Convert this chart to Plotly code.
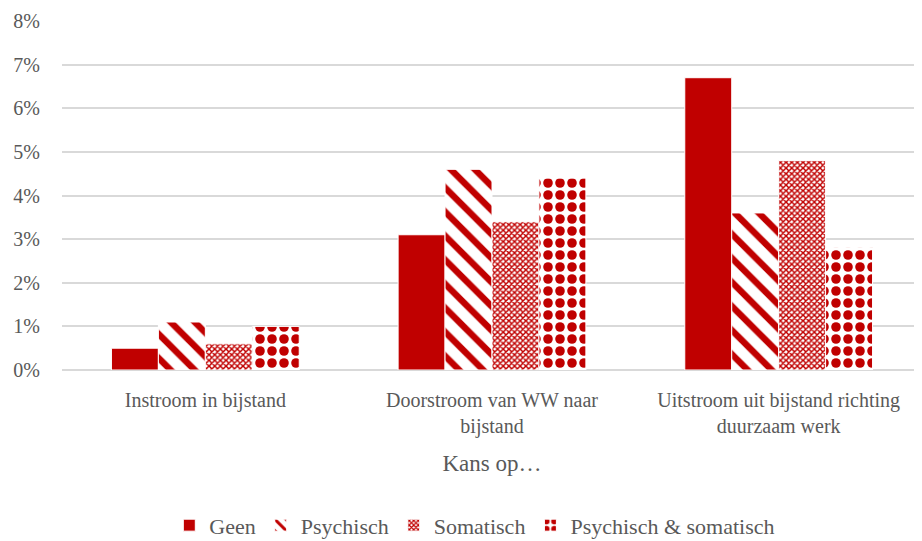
import plotly.graph_objects as go

categories = ["Instroom in bijstand", "Doorstroom van WW naar<br>bijstand",
              "Uitstroom uit bijstand richting<br>duurzaam werk"]
series_names = ["Geen", "Psychisch", "Somatisch", "Psychisch & somatisch"]
geen = [0.5, 3.1, 6.7]
psychisch = [1.1, 4.6, 3.6]
somatisch = [0.6, 3.4, 4.8]
psych_somat = [1.0, 4.4, 2.8]
y_ticks = [0, 1, 2, 3, 4, 5, 6, 7, 8]
y_tick_labels = ["0%", "1%", "2%", "3%", "4%", "5%", "6%", "7%", "8%"]

RED = "#C00000"
FONT = "Liberation Serif, Times New Roman, serif"
GREY = "#595959"

patterns = [
    dict(shape=""),
    dict(shape="\\", size=17, solidity=0.38, fgcolor=RED, bgcolor="white", fillmode="replace"),
    dict(shape="x", size=4, solidity=0.6, fgcolor=RED, bgcolor="white", fillmode="replace"),
    dict(shape=".", size=12, solidity=0.5, fgcolor=RED, bgcolor="white", fillmode="replace"),
]

fig = go.Figure()
for name, vals, pat in zip(series_names, [geen, psychisch, somatisch, psych_somat], patterns):
    fig.add_trace(go.Bar(
        name=name, x=categories, y=vals,
        marker=dict(color=RED if pat["shape"] == "" else "white",
                    pattern=pat, line=dict(color="white", width=1)),
    ))

fig.update_layout(
    width=914, height=533,
    margin=dict(l=54, r=0, t=13, b=171, autoexpand=False),
    paper_bgcolor="white", plot_bgcolor="white",
    barmode="group", bargap=0.345, bargroupgap=0,
    font=dict(family=FONT, size=20, color=GREY),
    showlegend=True,
    legend=dict(orientation="h", x=0.48, xanchor="center",
                yref="paper", y=-0.385, yanchor="top",
                font=dict(family=FONT, size=22, color=GREY), itemwidth=30,
                traceorder="normal"),
    xaxis=dict(title=dict(text="Kans op…", font=dict(family=FONT, size=23, color=GREY), standoff=17),
               tickfont=dict(family=FONT, size=20, color=GREY), showline=False, showgrid=False,
               ticks="outside", ticklen=12, tickcolor="white", automargin=False),
    yaxis=dict(range=[0, 8], tickmode="array", tickvals=y_ticks, ticktext=y_tick_labels,
               tickfont=dict(family=FONT, size=20, color=GREY),
               showgrid=True, gridcolor="#D9D9D9", gridwidth=1.5,
               zeroline=True, zerolinecolor="#D9D9D9", zerolinewidth=1.5,
               ticks="outside", ticklen=17, tickcolor="white", automargin=False),
)

fig.write_html("out.html")
